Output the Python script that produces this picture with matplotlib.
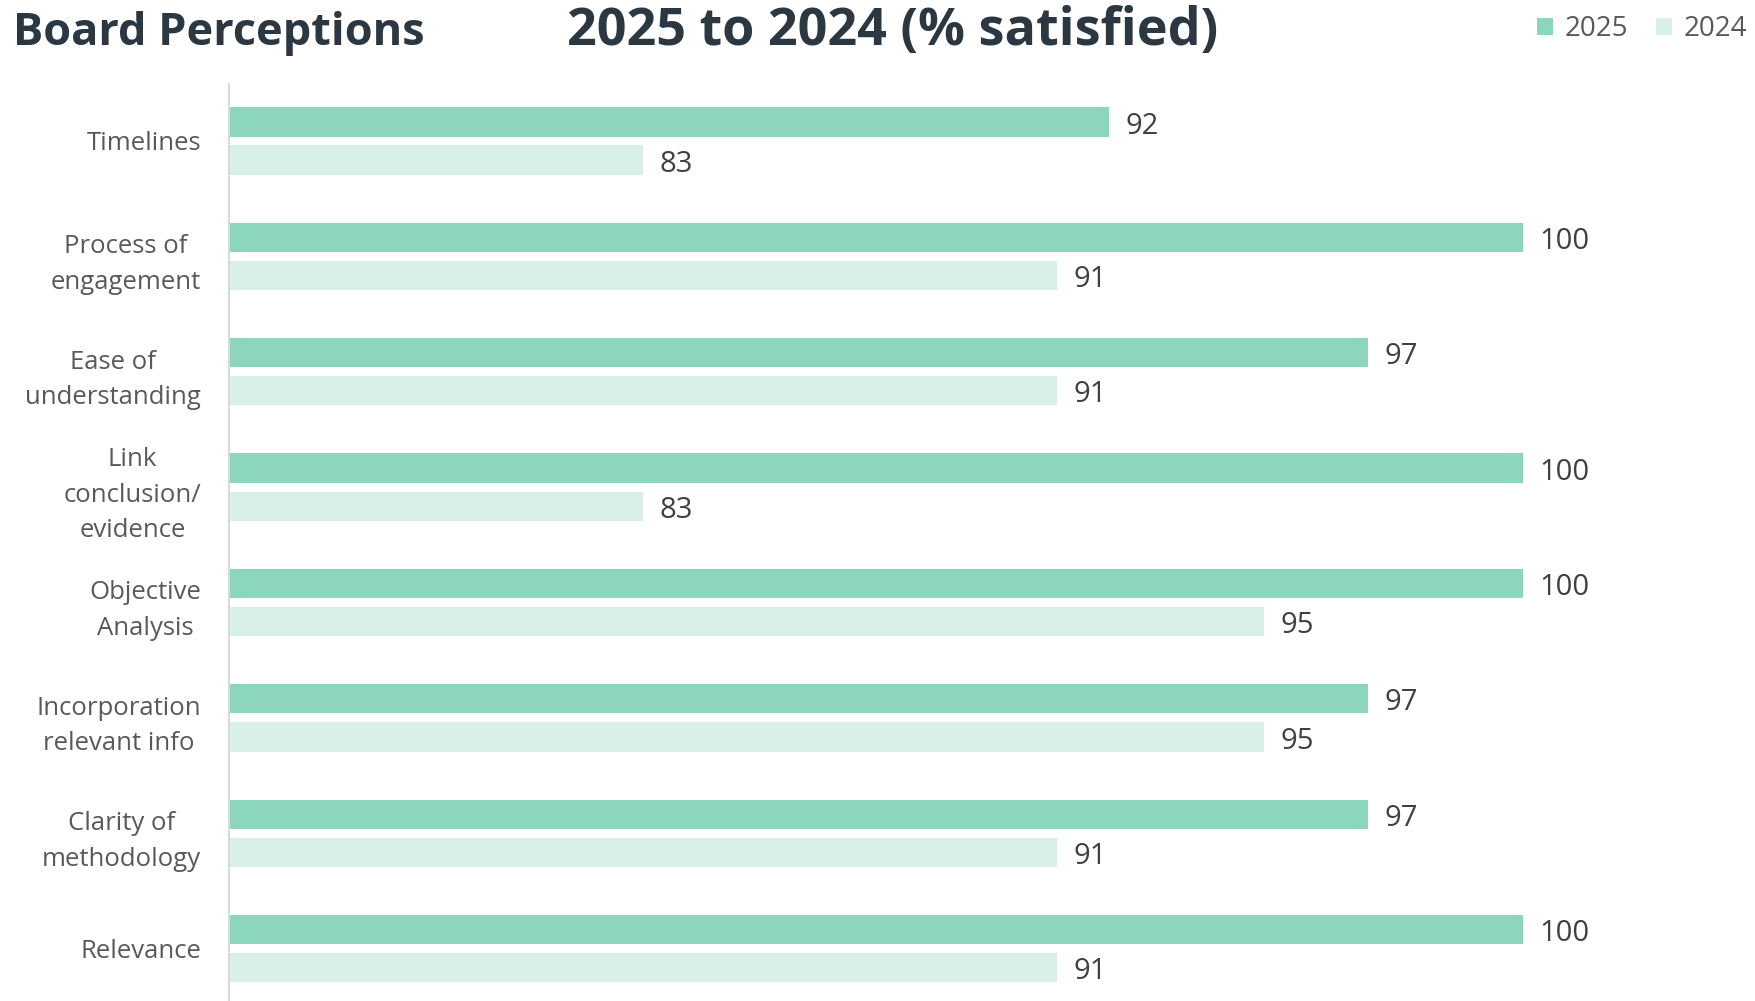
import matplotlib
matplotlib.use("Agg")
import matplotlib.pyplot as plt
import numpy as np

plt.rcParams['font.family'] = ['Open Sans', 'DejaVu Sans']

# data
categories = ["Timelines", "Process of\nengagement", "Ease of\nunderstanding",
              "Link\nconclusion/\nevidence", "Objective\nAnalysis",
              "Incorporation\nrelevant info", "Clarity of\nmethodology", "Relevance"]
vals_2025 = [92, 100, 97, 100, 100, 97, 97, 100]
vals_2024 = [83, 91, 91, 83, 95, 95, 91, 91]
series_names = ["2025", "2024"]

c25 = "#8CD6BE"
c24 = "#D9F0E9"
txt = "#404040"

fig = plt.figure(figsize=(17.56, 10.01), dpi=100)
ax = fig.add_axes([229 / 1756, 0, 1 - 229 / 1756, (1001 - 84) / 1001])

y = np.arange(len(categories))
h = 0.253
off = 0.165
b1 = ax.barh(y - off, vals_2025, height=h, color=c25, label=series_names[0])
b2 = ax.barh(y + off, vals_2024, height=h, color=c24, label=series_names[1])

for bars, vals in ((b1, vals_2025), (b2, vals_2024)):
    for bar, v in zip(bars, vals):
        ax.annotate(str(v), (v, bar.get_y() + bar.get_height() / 2),
                    xytext=(12, -3), textcoords="offset points",
                    ha="left", va="center", fontsize=21, color=txt)

ax.set_xlim(75, 104.5)
ax.set_ylim(7.454, -0.494)
ax.set_yticks(y)
ax.set_yticklabels(categories, fontsize=18.5, color="#595959",
                   multialignment="center", linespacing=1.55)
ax.tick_params(axis="y", length=0, pad=20)
ax.set_xticks([])
for s in ("top", "right", "bottom"):
    ax.spines[s].set_visible(False)
ax.spines["left"].set_color("#D9D9D9")
ax.spines["left"].set_linewidth(1.5)

fig.text(13 / 1756, 0.955, "Board Perceptions", fontsize=32.5, fontweight="bold",
         color="#2B3741", ha="left", va="baseline")
fig.text(567 / 1756, 0.955, "2025 to 2024 (% satisfied)", fontsize=37.5,
         fontweight="bold", color="#2B3741", ha="left", va="baseline")

fig.legend(handles=[b1, b2], labels=series_names, loc="upper right",
           bbox_to_anchor=(1.006, 1.004), ncol=2, frameon=False, fontsize=20,
           handlelength=0.6, handleheight=0.6, handletextpad=0.4,
           columnspacing=1.0, labelcolor="#595959", borderpad=0.2)

fig.savefig("out.png", dpi=100)
